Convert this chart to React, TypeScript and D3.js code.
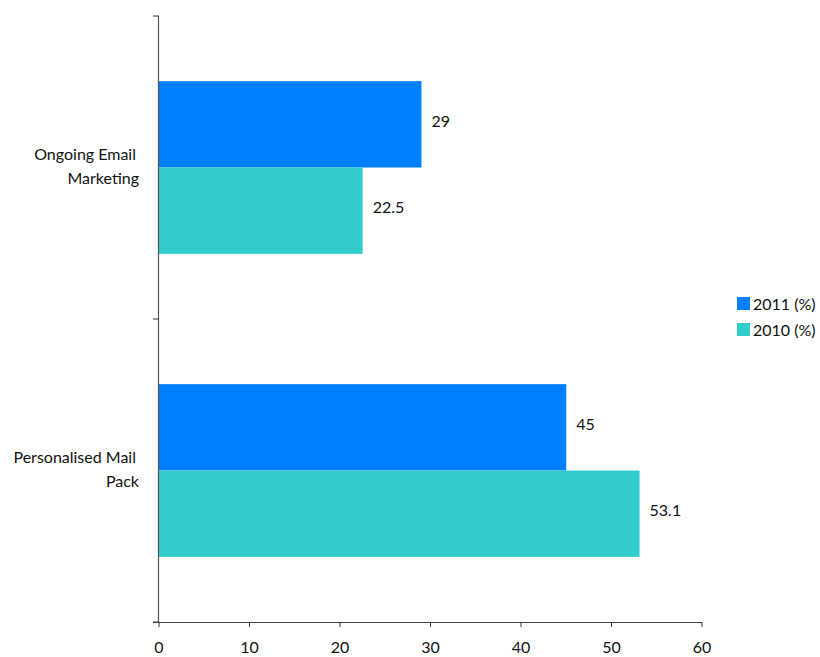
import React from "react";
import * as d3 from "d3";

const categories = ["Ongoing Email Marketing", "Personalised Mail Pack"];
const categoryLines = [["Ongoing Email", "Marketing"], ["Personalised Mail", "Pack"]];
const seriesNames = ["2011 (%)", "2010 (%)"];
const values2011 = [29, 45];
const values2010 = [22.5, 53.1];
const xTicks = [0, 10, 20, 30, 40, 50, 60];
const colors = ["#0080FF", "#33CCCC"];

const W = 820;
const H = 657;
const FONT = "Lato, 'Open Sans', sans-serif";

export default function App() {
  const x = d3.scaleLinear().domain([0, 60]).range([159, 702]);
  const y = d3.scaleBand().domain(categories).range([16, 622]).paddingInner(0.43).paddingOuter(0.215);
  const inner = d3.scaleBand().domain(seriesNames).range([0, y.bandwidth()]);
  const series = [values2011, values2010];

  return (
    <svg width={W} height={H} style={{ position: "absolute", left: 0, top: 0 }} fontFamily={FONT}>
      <rect width={W} height={H} fill="#fff" />
      {categories.map((c, ci) =>
        series.map((vals, si) => {
          const y0 = (y(c) as number) + (inner(seriesNames[si]) as number);
          const bh = inner.bandwidth();
          return (
            <g key={c + si}>
              <rect x={x(0)} y={y0} width={x(vals[ci]) - x(0)} height={bh} fill={colors[si]} />
              <text x={x(vals[ci]) + 10} y={y0 + bh / 2 - 3} dy="0.36em" fontSize={16} fill="#111">
                {vals[ci]}
              </text>
            </g>
          );
        })
      )}
      {/* y axis */}
      <line x1={158.5} x2={158.5} y1={16} y2={622} stroke="#555" strokeWidth={1.2} />
      {[0, 1, 2].map((i) => {
        const yy = i === 0 ? 16 : i === 1 ? (y(categories[1]) as number) - (y.step() * y.paddingInner()) / 2 : 622;
        return <line key={i} x1={153} x2={159} y1={yy} y2={yy} stroke="#333" strokeWidth={1} />;
      })}
      {categories.map((c, ci) => {
        const cy = (y(c) as number) + y.bandwidth() / 2 - 1;
        const lines = categoryLines[ci];
        return (
          <text key={c} textAnchor="end" fontSize={16} fill="#111">
            {lines.map((l, li) => (
              <tspan key={li} x={li === 0 ? 136 : 139} y={cy + (li - (lines.length - 1) / 2) * 24} dy="0.36em">
                {l}
              </tspan>
            ))}
          </text>
        );
      })}
      {/* x axis */}
      <line x1={153} x2={702} y1={622.5} y2={622.5} stroke="#444" strokeWidth={1.2} />
      {xTicks.map((t) => (
        <g key={t}>
          <line x1={x(t)} x2={x(t)} y1={622} y2={627} stroke="#333" strokeWidth={1} />
          <text x={x(t)} y={647} textAnchor="middle" dy="0.36em" fontSize={16} fill="#111">
            {t}
          </text>
        </g>
      ))}
      {/* legend */}
      {seriesNames.map((s, si) => (
        <g key={s}>
          <rect x={737} y={297} width={13} height={13} transform={`translate(0, ${si * 26})`} fill={colors[si]} />
          <text x={753} y={304 + si * 26} dy="0.36em" fontSize={16} fill="#111">
            {s}
          </text>
        </g>
      ))}
    </svg>
  );
}
